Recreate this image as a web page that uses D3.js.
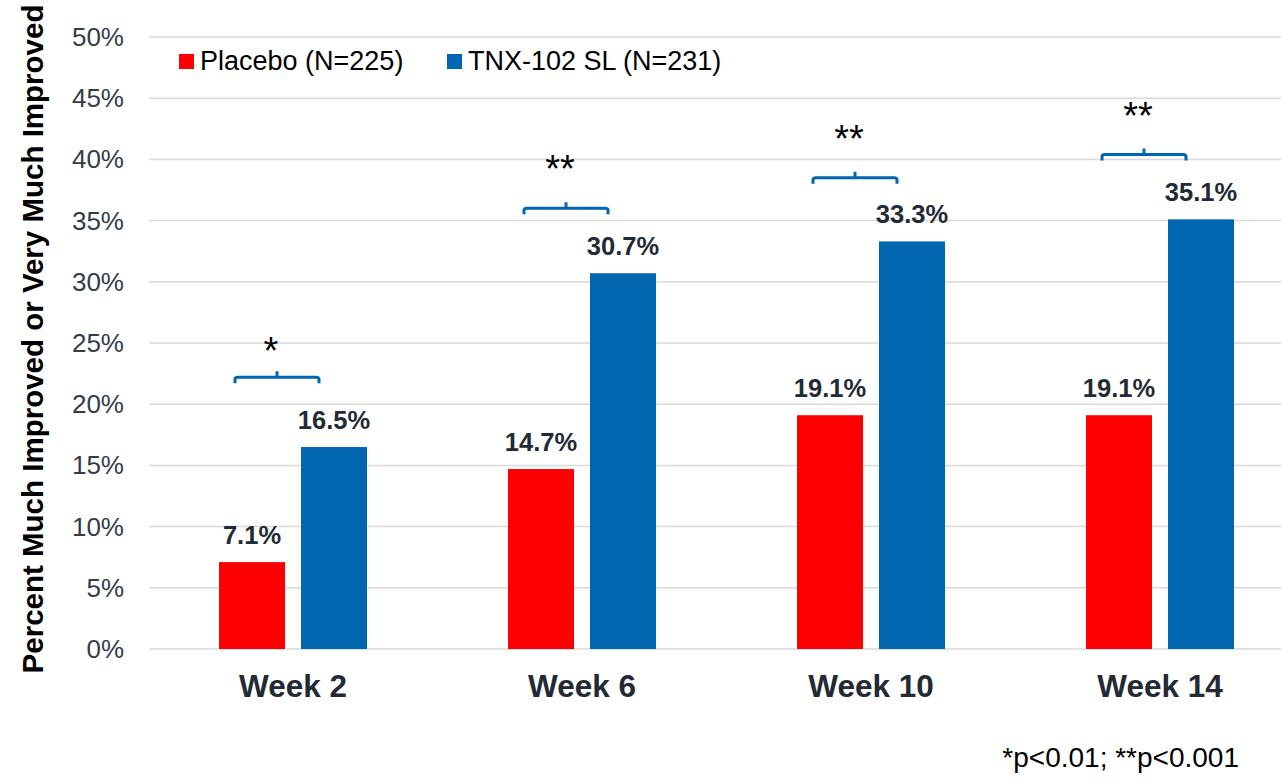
<!DOCTYPE html>
<html>
<head>
<meta charset="utf-8">
<script src="https://cdn.jsdelivr.net/npm/d3@7"></script>
<style>
  body { margin: 0; background: #fff; }
  text { font-family: "Liberation Sans", Arial, sans-serif; }
</style>
</head>
<body>
<svg id="chart" width="1281" height="780"></svg>
<script>
// data
var weeks = ["Week 2", "Week 6", "Week 10", "Week 14"]
var placebo = [7.1, 14.7, 19.1, 19.1]
var tnx = [16.5, 30.7, 33.3, 35.1]
var stars = ["*", "**", "**", "**"]
var bracketLevel = [22.2, 36.0, 38.5, 40.4]
var yTicks = [0, 5, 10, 15, 20, 25, 30, 35, 40, 45, 50]
var seriesNames = ["Placebo (N=225)", "TNX-102 SL (N=231)"]

var red = "#ff0000", blue = "#0066b0", dark = "#222a35"

var svg = d3.select("#chart")

var x = d3.scaleBand()
  .domain(weeks)
  .range([148.5, 1304.5])

var y = d3.scaleLinear()
  .domain([0, 50])
  .range([649, 37])

var barW = 66, gap = 16

// gridlines
svg.selectAll(".grid")
  .data(yTicks)
  .enter()
  .append("line")
  .attr("x1", 149)
  .attr("x2", 1281)
  .attr("y1", function(d){ return y(d) })
  .attr("y2", function(d){ return y(d) })
  .attr("stroke", "#d9d9d9")
  .attr("stroke-width", 1.5)

// y axis tick labels
svg.selectAll(".ytick")
  .data(yTicks)
  .enter()
  .append("text")
  .attr("x", 124)
  .attr("y", function(d){ return y(d) + 9 })
  .attr("text-anchor", "end")
  .attr("font-size", 26)
  .attr("fill", "#333d49")
  .text(function(d){ return d + "%" })

// y axis title
svg.append("text")
  .attr("transform", "translate(43,339) rotate(-90)")
  .attr("text-anchor", "middle")
  .attr("font-size", 29.5)
  .attr("font-weight", "bold")
  .attr("fill", "#000")
  .text("Percent Much Improved or Very Much Improved")

var center = function(w){ return x(w) + x.bandwidth() / 2 }

// placebo bars
svg.selectAll(".pbar")
  .data(placebo)
  .enter()
  .append("rect")
  .attr("x", function(d, i){ return center(weeks[i]) - gap / 2 - barW })
  .attr("y", function(d){ return y(d) })
  .attr("width", barW)
  .attr("height", function(d){ return y(0) - y(d) })
  .attr("fill", red)

// tnx bars
svg.selectAll(".tbar")
  .data(tnx)
  .enter()
  .append("rect")
  .attr("x", function(d, i){ return center(weeks[i]) + gap / 2 })
  .attr("y", function(d){ return y(d) })
  .attr("width", barW)
  .attr("height", function(d){ return y(0) - y(d) })
  .attr("fill", blue)

// value labels
var labelAt = function(vals, dx){
  svg.selectAll(null)
    .data(vals)
    .enter()
    .append("text")
    .attr("x", function(d, i){ return center(weeks[i]) + dx })
    .attr("y", function(d){ return y(d) - 18 })
    .attr("text-anchor", "middle")
    .attr("font-size", 25.5)
    .attr("font-weight", "bold")
    .attr("fill", dark)
    .text(function(d){ return d.toFixed(1) + "%" })
}
labelAt(placebo, -gap / 2 - barW / 2)
labelAt(tnx, gap / 2 + barW / 2)

// significance brackets
var bw = 84
weeks.forEach(function(w, i){
  var cx = center(w) - 16
  var by = y(bracketLevel[i])
  var p = "M" + (cx - bw / 2) + "," + (by + 6) +
    " L" + (cx - bw / 2) + "," + (by + 2) +
    " Q" + (cx - bw / 2) + "," + by + " " + (cx - bw / 2 + 3) + "," + by +
    " L" + (cx + bw / 2 - 3) + "," + by +
    " Q" + (cx + bw / 2) + "," + by + " " + (cx + bw / 2) + "," + (by + 2) +
    " L" + (cx + bw / 2) + "," + (by + 6) +
    " M" + cx + "," + by + " L" + cx + "," + (by - 6)
  svg.append("path")
    .attr("d", p)
    .attr("fill", "none")
    .attr("stroke", blue)
    .attr("stroke-width", 3)
  var up = stars[i].length > 1 ? 26 : 13
  svg.append("text")
    .attr("x", cx - 6)
    .attr("y", by - up)
    .attr("text-anchor", "middle")
    .attr("font-size", 38)
    .attr("fill", "#000")
    .text(stars[i])
})

// category labels
svg.selectAll(".xlab")
  .data(weeks)
  .enter()
  .append("text")
  .attr("x", function(d){ return center(d) })
  .attr("y", 697)
  .attr("text-anchor", "middle")
  .attr("font-size", 31.5)
  .attr("font-weight", "bold")
  .attr("fill", dark)
  .text(function(d){ return d })

// legend
var legX = [179, 447]
seriesNames.forEach(function(n, i){
  svg.append("rect")
    .attr("x", legX[i])
    .attr("y", 54)
    .attr("width", 15)
    .attr("height", 15)
    .attr("fill", i == 0 ? red : blue)
  svg.append("text")
    .attr("x", legX[i] + 21)
    .attr("y", 70)
    .attr("font-size", 27)
    .attr("fill", "#000")
    .text(n)
})

// footnote
svg.append("text")
  .attr("x", 1239)
  .attr("y", 767)
  .attr("text-anchor", "end")
  .attr("font-size", 28)
  .attr("fill", "#000")
  .text("*p<0.01; **p<0.001")
</script>
</body>
</html>
